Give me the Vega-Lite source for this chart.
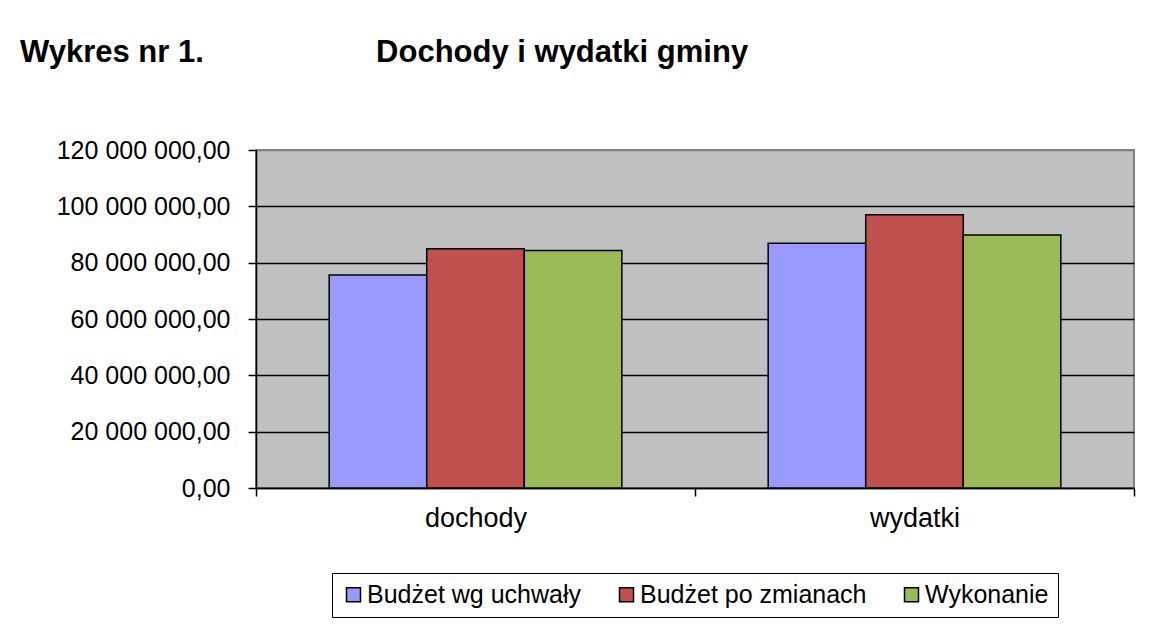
{
  "$schema": "https://vega.github.io/schema/vega-lite/v6.json",
  "width": 878,
  "height": 338,
  "autosize": {"type": "none"},
  "padding": {"left": 256, "top": 150, "right": 19, "bottom": 149},
  "background": "white",
  "config": {
    "locale": {"number": {"decimal": ",", "thousands": " ", "grouping": [3], "currency": ["", " zł"]}},
    "view": {"fill": "#C0C0C0", "stroke": "#808080", "strokeWidth": 2},
    "font": "Liberation Sans"
  },
  "title": {
    "text": "Wykres nr 1.\u00a0\u00a0\u00a0\u00a0\u00a0\u00a0\u00a0\u00a0\u00a0\u00a0\u00a0\u00a0\u00a0\u00a0\u00a0\u00a0\u00a0\u00a0\u00a0\u00a0Dochody i wydatki gminy",
    "anchor": "start",
    "frame": "group",
    "dx": -236,
    "offset": 45,
    "baseline": "alphabetic",
    "fontSize": 31,
    "fontWeight": "bold",
    "color": "black",
    "font": "Liberation Sans"
  },
  "data": {
    "values": [
      {"kategoria": "dochody", "seria": "Budżet wg uchwały", "wartosc": 75660000},
      {"kategoria": "dochody", "seria": "Budżet po zmianach", "wartosc": 84900000},
      {"kategoria": "dochody", "seria": "Wykonanie", "wartosc": 84350000},
      {"kategoria": "wydatki", "seria": "Budżet wg uchwały", "wartosc": 86900000},
      {"kategoria": "wydatki", "seria": "Budżet po zmianach", "wartosc": 97000000},
      {"kategoria": "wydatki", "seria": "Wykonanie", "wartosc": 89800000}
    ]
  },
  "mark": {"type": "bar", "stroke": "black", "strokeWidth": 1.5},
  "encoding": {
    "x": {
      "field": "kategoria",
      "type": "nominal",
      "sort": ["dochody", "wydatki"],
      "scale": {"paddingInner": 0, "paddingOuter": 0},
      "axis": {
        "title": null,
        "labelAngle": 0,
        "labelFontSize": 27,
        "labelColor": "black",
        "labelFont": "Liberation Sans",
        "domainColor": "black",
        "domainWidth": 1.5,
        "tickColor": "black",
        "tickWidth": 1.5,
        "tickSize": 8,
        "tickBand": "extent",
        "labelPadding": 9
      }
    },
    "xOffset": {
      "field": "seria",
      "type": "nominal",
      "sort": ["Budżet wg uchwały", "Budżet po zmianach", "Wykonanie"],
      "scale": {"paddingOuter": 0.75, "paddingInner": 0}
    },
    "y": {
      "field": "wartosc",
      "type": "quantitative",
      "scale": {"domain": [0, 120000000], "nice": false},
      "axis": {
        "title": null,
        "values": [0, 20000000, 40000000, 60000000, 80000000, 100000000, 120000000],
        "format": ",.2f",
        "labelFontSize": 25,
        "labelLimit": 400,
        "labelColor": "black",
        "labelFont": "Liberation Sans",
        "labelPadding": 18,
        "tickSize": 8,
        "tickColor": "black",
        "tickWidth": 1.5,
        "domainColor": "black",
        "domainWidth": 1.5,
        "grid": true,
        "gridColor": {"condition": {"test": "datum.value == 120000000", "value": "#808080"}, "value": "black"},
        "gridWidth": 1.5,
        "gridOpacity": 1
      }
    },
    "color": {
      "field": "seria",
      "type": "nominal",
      "sort": ["Budżet wg uchwały", "Budżet po zmianach", "Wykonanie"],
      "scale": {"domain": ["Budżet wg uchwały", "Budżet po zmianach", "Wykonanie"], "range": ["#9999FF", "#C0504D", "#9BBB59"]},
      "legend": {
        "title": null,
        "orient": "none",
        "direction": "horizontal",
        "legendX": 76,
        "legendY": 423,
        "padding": 9,
        "strokeColor": "black",
        "fillColor": "white",
        "symbolType": "square",
        "symbolSize": 196,
        "symbolStrokeColor": "black",
        "symbolStrokeWidth": 1.5,
        "symbolOpacity": 1,
        "labelFontSize": 25,
        "labelFont": "Liberation Sans",
        "labelColor": "black",
        "labelOffset": 1,
        "columnPadding": 32,
        "labelLimit": 400
      }
    }
  }
}
